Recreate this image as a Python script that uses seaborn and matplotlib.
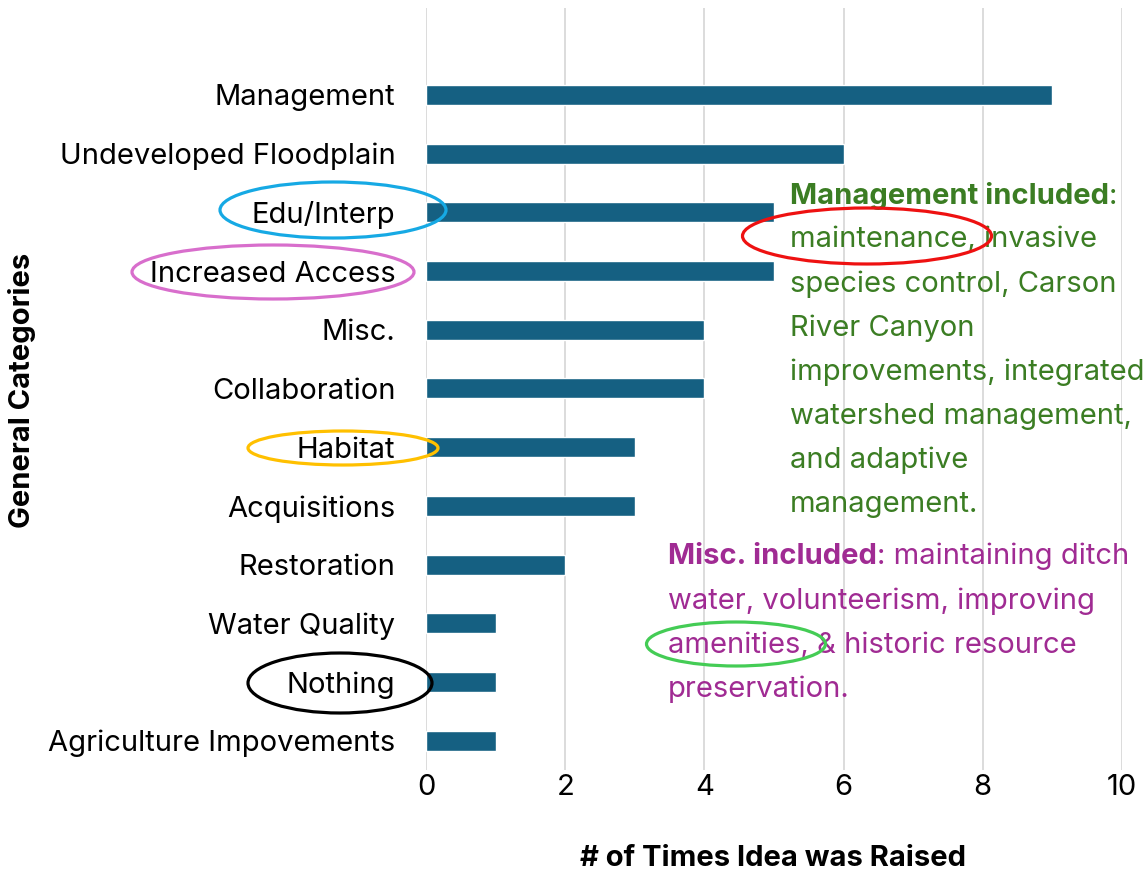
"""Bar chart of general categories raised, with annotation callouts."""

import matplotlib

matplotlib.use("Agg")
import matplotlib.pyplot as plt
import pandas as pd
import seaborn as sns
from matplotlib.patches import Ellipse

categories = [
    "Management",
    "Undeveloped Floodplain",
    "Edu/Interp",
    "Increased Access",
    "Misc.",
    "Collaboration",
    "Habitat",
    "Acquisitions",
    "Restoration",
    "Water Quality",
    "Nothing",
    "Agriculture Impovements",
]
counts = [9, 6, 5, 5, 4, 4, 3, 3, 2, 1, 1, 1]
x_ticks = [0, 2, 4, 6, 8, 10]

mgmt_lines = [
    "maintenance, invasive",
    "species control, Carson",
    "River Canyon",
    "improvements, integrated",
    "watershed management,",
    "and adaptive",
    "management.",
]
misc_lines = [
    "water, volunteerism, improving",
    "amenities, & historic resource",
    "preservation.",
]

BAR = "#156082"
GREEN = "#3B7D23"
PURPLE = "#A02B93"
FONT = "Inter"
FS = 21

sns.set_theme(style="white")
plt.rcParams["font.family"] = [FONT, "DejaVu Sans"]
plt.rcParams["text.color"] = "black"

W, H = 1144, 873
fig = plt.figure(figsize=(W / 100, H / 100), dpi=100)
ax = fig.add_axes([426 / W, 1 - 770 / H, (1122 - 426) / W, (770 - 8) / H])

df = pd.DataFrame({"category": categories, "count": counts})
sns.barplot(data=df, x="count", y="category", color=BAR, saturation=1,
            width=0.34, ax=ax, zorder=3)

ax.set_xlim(0, 10)
ax.set_ylim(11.5, -1.48)
ax.set_xticks(x_ticks)
ax.grid(axis="x", color="#D9D9D9", linewidth=1.3, zorder=0)
ax.grid(axis="y", visible=False)
for s in ax.spines.values():
    s.set_visible(False)
ax.tick_params(axis="both", length=0, labelsize=FS, colors="black")
ax.tick_params(axis="y", pad=22)
ax.tick_params(axis="x", pad=3)
ax.set_xlabel("")
ax.set_ylabel("")


def px(x, y):
    return x / W, 1 - y / H


fig.text(*px(773, 858), "# of Times Idea was Raised", fontsize=FS,
         fontweight="bold", ha="center", va="center", color="black")
fig.text(*px(22, 390), "General Categories", rotation=90, fontsize=FS,
         fontweight="bold", ha="center", va="center", color="black")

# management note
t = fig.text(*px(790, 196), "Management included", color=GREEN, fontsize=FS,
             fontweight="bold", va="center")
ax.annotate(":", xy=(1, 0.5), xycoords=t, va="center", ha="left",
            color=GREEN, fontsize=FS)
for i, line in enumerate(mgmt_lines):
    fig.text(*px(790, 240 + i * 44), line, color=GREEN, fontsize=FS,
             va="center")

# misc note
t2 = fig.text(*px(668, 556), "Misc. included", color=PURPLE, fontsize=FS,
              fontweight="bold", va="center")
ax.annotate(": maintaining ditch", xy=(1, 0.5), xycoords=t2, va="center",
            ha="left", color=PURPLE, fontsize=FS)
for i, line in enumerate(misc_lines):
    fig.text(*px(668, 601 + i * 44), line, color=PURPLE, fontsize=FS,
             va="center")

# highlight ellipses (pixel centre, width, height)
circles = [
    (333, 210, 226, 56, "#16A9E4"),
    (273, 272, 282, 54, "#D86ECC"),
    (343, 448, 190, 34, "#FFC000"),
    (340, 683, 184, 60, "black"),
    (867, 236, 249, 56, "#EE1111"),
    (736, 644, 179, 44, "#44CC55"),
]
for cx, cy, w, h, c in circles:
    fig.patches.append(Ellipse(px(cx, cy), w / W, h / H, fill=False,
                               edgecolor=c, linewidth=2.3,
                               transform=fig.transFigure, zorder=5))

fig.savefig("out.png", dpi=100)
